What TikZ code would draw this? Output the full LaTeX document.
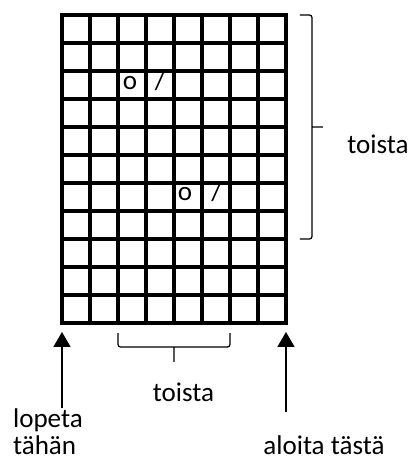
\documentclass[tikz,border=0pt]{standalone}
\usepackage{fontspec}
\setmainfont{Carlito}
\usetikzlibrary{arrows.meta}

\begin{document}
\begin{tikzpicture}[x=0.56cm,y=0.56cm,
	lbl/.style={font=\fontsize{15.4}{15.4}\selectfont, inner sep=0pt},
	pointer/.style={line width=1pt, -{Triangle[width=9.6pt,length=8.5pt]}},
	bracket/.style={line width=0.7pt, rounded corners=1.5pt}]
    \useasboundingbox (-2.214,-4.893) rectangle (12.536,11.536);
    \draw[line width=1.9pt, step=0.56cm] (0,0) grid (8,11) (0,0) rectangle (8,11);
    \node[lbl, anchor=base] (o1) at (2.43,8.35) {o};
    \node[lbl, anchor=base] (s1) at (3.5,8.35) {/};
    \node[lbl, anchor=base] (o2) at (4.39,4.39) {o};
    \node[lbl, anchor=base] (s2) at (5.52,4.39) {/};
    \draw[bracket] (8.5,11) -- (8.93,11) -- (8.93,3) -- (8.5,3)
      (8.93,7) -- (9.32,7);
    \node[lbl, anchor=base west] (rows) at (10.18,6.07) {toista};
    \draw[bracket] (2,-0.36) -- (2,-0.86) -- (6,-0.86) -- (6,-0.36)
      (4,-0.86) -- (4,-1.39);
    \node[lbl, anchor=base] (cols) at (4.34,-2.82) {toista};
    \coordinate (stop) at (0,-0.32);
    \coordinate (stoptail) at (0,-3.04);
    \coordinate (start) at (8,-0.32);
    \coordinate (starttail) at (8,-3.18);
    \node[lbl, anchor=base west, align=left] (stoptext) at (-1.76,-4.7) {lopeta\\tähän};
    \node[lbl, anchor=base west] (starttext) at (7.18,-4.7) {aloita tästä};
    \draw[pointer] (stoptail) -- (stop);
    \draw[pointer] (starttail) -- (start);
\end{tikzpicture}
\end{document}
